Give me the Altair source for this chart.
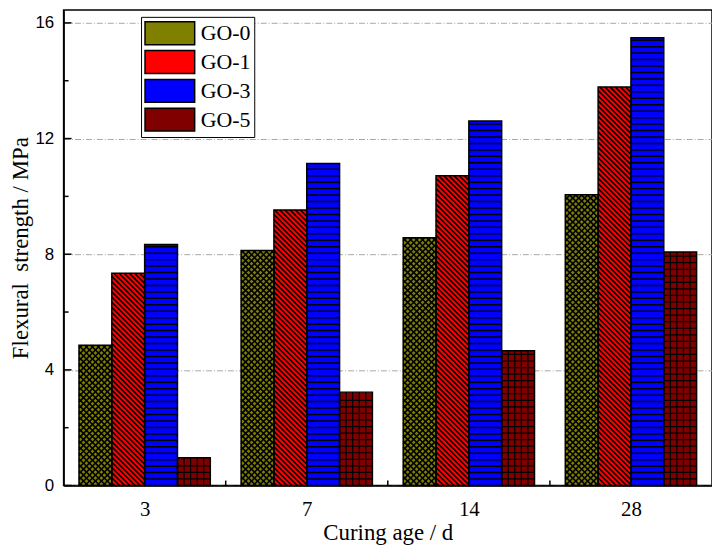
import json
import pandas as pd
import altair as alt

# ---- data ----
ages = ["3", "7", "14", "28"]
series = ["GO-0", "GO-1", "GO-3", "GO-5"]
go0 = [4.85, 8.13, 8.57, 10.06]
go1 = [7.34, 9.53, 10.71, 13.78]
go3 = [8.34, 11.14, 12.61, 15.49]
go5 = [0.96, 3.23, 4.66, 8.08]
colors = ["#808000", "#ff0000", "#0000ff", "#800000"]
y_major = [0, 4, 8, 12, 16]
y_minor = [2, 6, 10, 14]

# ---- layout constants ----
W, H = 653, 479
YMAX = 16.45
BW = 0.2025          # bar width in group units
PXX = W / len(ages)  # px per x unit
PXY = H / YMAX       # px per y unit

values = [go0, go1, go3, go5]
rows = []
for j, s in enumerate(series):
    for i, a in enumerate(ages):
        c = i + (j - (len(series) - 1) / 2) * BW
        rows.append(dict(age=a, series=s, value=values[j][i], x0=c - BW / 2, x1=c + BW / 2))
bars = pd.DataFrame(rows)


def hlines(x0, x1, top, step):
    out = []
    v = step
    while v < top * PXY - 2.0:
        out.append(dict(x=x0, x2=x1, y=v / PXY, y2=v / PXY))
        v += step
    return out


def vlines(x0, x1, top, step):
    out = []
    wpx = (x1 - x0) * PXX
    u = step
    while u < wpx - 0.8:
        out.append(dict(x=x0 + u / PXX, x2=x0 + u / PXX, y=0, y2=top))
        u += step
    return out


def diag(x0, x1, top, step, back=True):
    out = []
    wpx = (x1 - x0) * PXX
    hpx = top * PXY
    if back:  # "\" : v = c - u
        c = step / 2
        while c < wpx + hpx:
            ua = max(0.0, c - hpx)
            ub = min(wpx, c)
            out.append(dict(x=x0 + ua / PXX, y=(c - ua) / PXY, x2=x0 + ub / PXX, y2=(c - ub) / PXY))
            c += step
    else:  # "/" : v = u + c
        c = -wpx + step / 2
        while c < hpx:
            ua = max(0.0, -c)
            ub = min(wpx, hpx - c)
            out.append(dict(x=x0 + ua / PXX, y=(ua + c) / PXY, x2=x0 + ub / PXX, y2=(ub + c) / PXY))
            c += step
    return out


h0, h1, h3, h5 = [], [], [], []
for r in rows:
    if r["series"] == "GO-0":
        h0 += diag(r["x0"], r["x1"], r["value"], 6.0, True)
        h0 += diag(r["x0"], r["x1"], r["value"], 6.0, False)
    elif r["series"] == "GO-1":
        h1 += diag(r["x0"], r["x1"], r["value"], 5.2, True)
    elif r["series"] == "GO-3":
        h3 += hlines(r["x0"], r["x1"], r["value"], 6.5)
    else:
        h5 += hlines(r["x0"], r["x1"], r["value"], 6.6)
        h5 += vlines(r["x0"], r["x1"], r["value"], 6.6)

xscale = alt.Scale(domain=[-0.5, len(ages) - 0.5], nice=False, zero=False)
yscale = alt.Scale(domain=[0, YMAX], nice=False)

label_expr = json.dumps(ages) + "[datum.value]"

x_axis = alt.Axis(
    values=list(range(len(ages))), labelExpr=label_expr, grid=False, ticks=False,
    labelFont="Liberation Serif", labelFontSize=21, labelColor="black", labelPadding=13,
    title="Curing age / d", titleFont="Liberation Serif", titleFontSize=23,
    titleFontWeight="normal", titleColor="black", titlePadding=2,
    domainColor="black", domainWidth=1.5,
)
y_axis = alt.Axis(
    values=y_major, format="d", grid=True, gridColor="#a8a8a8", gridDash=[6, 2, 1, 2],
    gridWidth=1, ticks=False, labelFont="Liberation Sans", labelFontSize=17,
    labelColor="black", labelPadding=10,
    title="Flexural\u00a0 strength / MPa", titleFont="Liberation Serif", titleFontSize=23,
    titleFontWeight="normal", titleColor="black", titlePadding=2,
    domainColor="black", domainWidth=1.5,
)

base = alt.Chart(bars)

fill = base.mark_bar().encode(
    x=alt.X("x0:Q", scale=xscale, axis=x_axis),
    x2="x1:Q",
    y=alt.Y("value:Q", scale=yscale, axis=y_axis),
    y2=alt.datum(0),
    color=alt.Color(
        "series:N",
        scale=alt.Scale(domain=series, range=colors),
        legend=alt.Legend(
            title=None, orient="none", legendX=78, legendY=7,
            fillColor="white", strokeColor="black", padding=3,
            symbolType="M-1,-0.92H3V0.92H-1Z", symbolSize=625,
            symbolStrokeColor="black", symbolStrokeWidth=1.5, symbolOpacity=1,
            labelFont="Liberation Serif", labelFontSize=22, labelColor="black",
            labelOffset=30, rowPadding=0,
        ),
    ),
)


def hatch(data, width):
    return alt.Chart(pd.DataFrame(data)).mark_rule(color="black", strokeWidth=width).encode(
        x=alt.X("x:Q", scale=xscale), x2="x2:Q",
        y=alt.Y("y:Q", scale=yscale), y2="y2:Q",
    )


outline = base.mark_bar(fillOpacity=0, stroke="black", strokeWidth=1.5).encode(
    x=alt.X("x0:Q", scale=xscale), x2="x1:Q",
    y=alt.Y("value:Q", scale=yscale), y2=alt.datum(0),
)

major_ticks = alt.Chart(pd.DataFrame({"t": y_major})).mark_rule(color="black", strokeWidth=1.5).encode(
    y=alt.Y("t:Q", scale=yscale), x=alt.value(0), x2=alt.value(8)
)
minor_ticks = alt.Chart(pd.DataFrame({"t": y_minor})).mark_rule(color="black", strokeWidth=1.5).encode(
    y=alt.Y("t:Q", scale=yscale), x=alt.value(0), x2=alt.value(5)
)
bounds = [i + 0.5 for i in range(len(ages) - 1)]
x_ticks = alt.Chart(pd.DataFrame({"b": bounds})).mark_rule(color="black", strokeWidth=1.5).encode(
    x=alt.X("b:Q", scale=xscale), y=alt.value(H), y2=alt.value(H - 5)
)

chart = alt.layer(
    fill,
    hatch(h0, 1.6), hatch(h1, 1.6), hatch(h3, 1.5), hatch(h5, 1.2),
    outline, major_ticks, minor_ticks, x_ticks,
).properties(
    width=W, height=H, padding={"left": 2, "top": 0, "right": 0, "bottom": 0},
).configure_view(
    stroke="black", strokeWidth=1.5,
)

chart.save("out.html", embed_options={"renderer": "svg", "actions": False})
